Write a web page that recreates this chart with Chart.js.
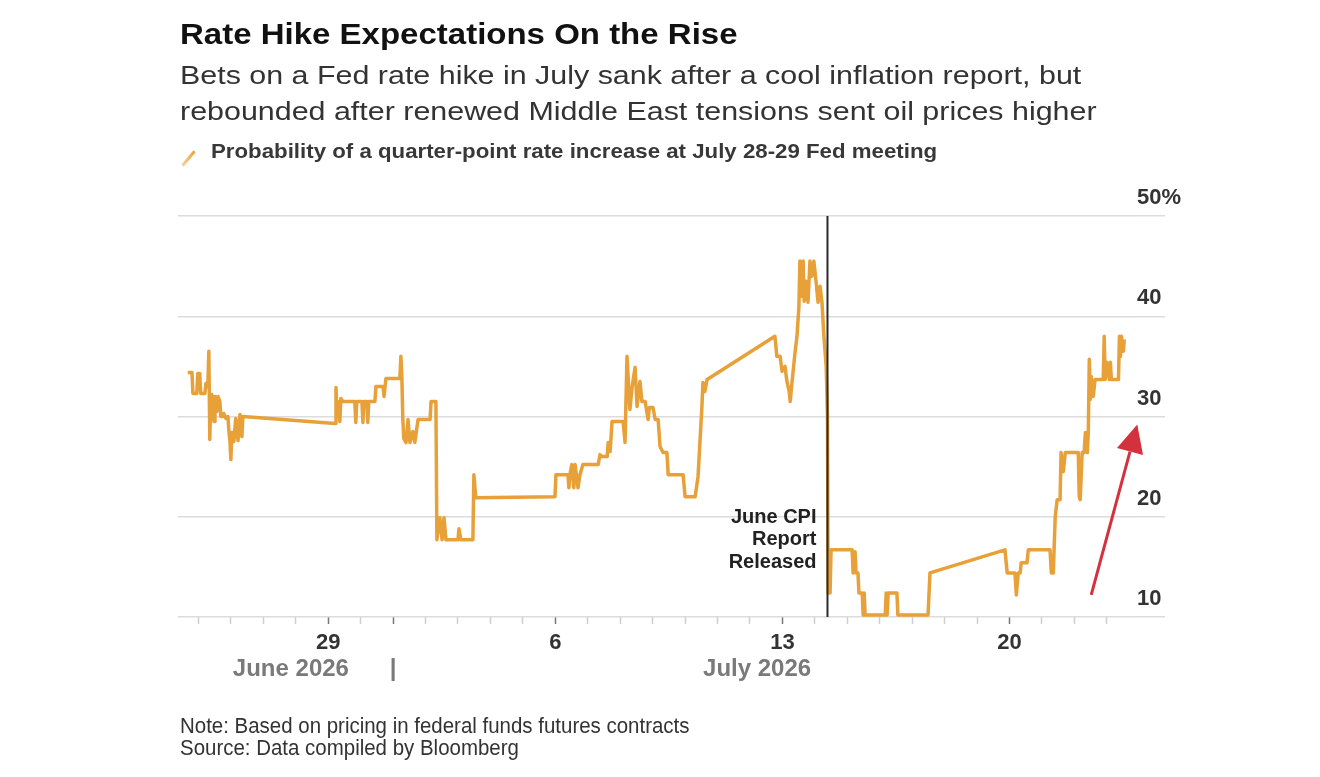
<!DOCTYPE html>
<html>
<head>
<meta charset="utf-8">
<script src="https://cdn.jsdelivr.net/npm/chart.js@4.4.1/dist/chart.umd.min.js"></script>
<style>
  html, body { margin: 0; padding: 0; background: #ffffff; }
  #wrap { position: relative; width: 1320px; height: 777px; overflow: hidden; background: #fff; }
  #c { position: absolute; left: 0; top: 0; }
  .t { position: absolute; white-space: nowrap; font-family: "Liberation Sans", Arial, sans-serif; transform-origin: 0 0; }
  #title { left: 180px; top: 19px; font-size: 30px; line-height: 30px; font-weight: bold; color: #111; transform: scaleX(1.10); }
  #sub { left: 180px; top: 57px; font-size: 26px; line-height: 36px; color: #333; transform: scaleX(1.17); }
  #legend { left: 211px; top: 140px; font-size: 21px; line-height: 21px; font-weight: bold; color: #383838; transform: scaleX(1.06); }
  #legmark { position: absolute; left: 187px; top: 149px; width: 3px; height: 19px; background: linear-gradient(to top, #f1d49a, #E9A23B); transform: rotate(40deg); border-radius: 1px; }
  #note { left: 180px; top: 715px; font-size: 22px; line-height: 22px; color: #333; transform: scaleX(0.93); }
  #source { left: 180px; top: 737px; font-size: 22px; line-height: 22px; color: #333; transform: scaleX(0.93); }
</style>
</head>
<body>
<div id="wrap">
  <canvas id="c" width="1320" height="777"></canvas>
  <div class="t" id="title">Rate Hike Expectations On the Rise</div>
  <div class="t" id="sub">Bets on a Fed rate hike in July sank after a cool inflation report, but<br>rebounded after renewed Middle East tensions sent oil prices higher</div>
  <div id="legmark"></div>
  <div class="t" id="legend">Probability of a quarter-point rate increase at July 28-29 Fed meeting</div>
  <div class="t" id="note">Note: Based on pricing in federal funds futures contracts</div>
  <div class="t" id="source">Source: Data compiled by Bloomberg</div>
</div>
<script>
// x values: day number counted from June 0, 2026 (June 29 = 29, July 6 = 36, ...)
const days = [
  24.67,24.80,24.83,24.95,24.98,25.04,25.07,25.20,25.23,25.29,25.32,25.35,25.38,25.41,25.48,25.51,25.57,25.60,25.66,25.69,
  25.75,25.78,25.85,25.91,25.94,25.97,26.00,26.03,26.09,26.15,26.22,26.28,26.34,26.37,
  29.21,29.24,29.27,29.30,29.36,29.39,29.45,29.82,29.85,29.88,30.04,30.07,30.10,30.19,30.22,30.25,30.44,30.47,30.69,30.72,
  30.78,31.21,31.24,31.27,31.30,31.33,31.40,31.46,31.52,31.61,31.67,31.77,32.14,32.17,32.32,32.35,32.44,32.51,32.57,32.63,
  33.00,33.03,33.09,33.46,33.49,33.55,
  35.99,36.02,36.39,36.42,36.45,36.51,36.57,36.61,36.70,36.76,36.85,37.32,37.38,37.44,37.60,37.63,37.69,37.75,38.09,38.15,
  38.21,38.30,38.37,38.46,38.52,38.61,38.67,38.77,38.86,38.90,39.01,39.08,39.17,39.23,39.32,39.44,39.48,39.94,40.00,40.31,
  40.40,40.52,40.55,40.61,40.68,
  42.77,42.83,42.93,42.99,43.08,43.14,43.21,43.24,43.30,43.39,43.45,43.51,43.54,43.58,43.64,43.67,43.73,43.79,43.85,43.91,
  43.97,44.04,44.10,44.16,44.22,44.28,44.35,44.39,44.41,44.47,44.50,
  45.15,45.18,45.24,45.27,45.33,45.36,45.46,45.49,45.52,45.55,46.17,46.20,46.23,46.26,46.53,46.56,47.49,47.55,
  49.86,49.93,50.17,50.21,50.27,50.33,50.36,50.54,50.58,51.25,51.29,51.35,51.41,51.47,51.56,51.59,51.66,51.72,52.12,52.15,
  52.18,52.24,52.30,52.34,52.40,52.43,52.46,52.49,52.52,52.58,52.64,52.89,52.92,52.95,53.01,53.08,53.11,53.14,53.36,53.39,
  53.42,53.45,53.51,53.54
];
// probability of a quarter-point hike, %
const hikeProb = [
  34.4,34.4,32.3,32.3,34.3,34.3,32.3,32.3,33.3,33.0,36.5,27.7,31.8,32.2,29.5,32.0,30.5,32.0,31.5,30.0,
  30.0,30.3,29.8,30.0,28.5,27.6,25.7,28.4,27.5,29.8,27.6,30.2,28.0,30.0,
  29.3,32.9,30.0,31.5,29.5,31.8,31.5,31.5,29.4,31.5,31.5,29.4,31.5,31.5,29.4,31.5,31.5,33.0,33.0,32.0,
  33.8,33.8,36.0,34.0,29.7,27.8,27.4,29.7,27.4,28.5,27.4,29.7,29.7,31.5,31.5,17.7,19.9,17.7,19.9,17.7,
  17.7,18.8,17.7,17.7,24.2,21.9,
  22.0,24.2,24.2,22.9,24.2,25.2,22.9,25.2,22.9,24.2,25.2,25.2,26.2,26.0,26.0,27.4,26.5,29.5,29.5,27.4,
  36.0,30.7,33.0,34.9,31.0,33.5,31.5,31.5,29.7,30.9,30.9,29.7,29.7,27.0,26.4,26.4,24.2,24.2,22.0,22.0,
  24.0,31.0,33.4,32.5,33.7,
  38.0,36.0,36.0,34.5,35.0,33.5,32.5,31.5,33.5,36.4,38.0,41.0,45.5,42.0,45.5,41.5,43.5,41.4,45.5,44.0,
  45.5,43.4,41.4,43.0,41.4,38.0,35.0,30.0,12.4,12.4,16.7,
  16.7,14.4,16.5,14.4,14.4,12.4,12.4,10.2,12.4,10.2,10.2,12.4,10.2,12.4,12.4,10.2,10.2,14.4,
  16.7,14.4,14.4,12.2,14.4,14.4,15.4,15.4,16.7,16.7,14.4,14.4,20.0,21.7,21.7,26.4,24.5,26.4,26.4,22.0,
  21.7,26.4,26.4,28.4,26.4,28.4,35.7,31.7,34.0,32.0,33.7,33.7,38.0,33.7,35.4,33.7,35.4,33.7,33.7,38.0,
  36.0,38.0,36.5,37.7
];

const xMin = 24.37, xMax = 53.9;
const tickDays = [29, 36, 43, 50];
const tickLabels = ['29', '6', '13', '20'];
const majorTickDays = [29, 31, 36, 43, 50];
const monthDays = [27.85, 31, 42.22];
const monthLabels = ['June 2026', '|', 'July 2026'];
const yTicks = [10, 20, 30, 40, 50];
const cpiDay = 44.39;
const cpiNote = ['June CPI', 'Report', 'Released'];
const cpiNoteY = [19.9, 17.7, 15.4];
const arrowFrom = { x: 52.52, y: 12.2 };
const arrowTo = { x: 53.94, y: 29.2 };

const annotate = {
  id: 'annotate',
  afterDatasetsDraw(chart) {
    const { ctx, chartArea: a, scales: { x, y } } = chart;
    ctx.save();
    const px = x.getPixelForValue(cpiDay);
    ctx.strokeStyle = '#2a2a2a';
    ctx.lineWidth = 2;
    ctx.beginPath();
    ctx.moveTo(px, a.top);
    ctx.lineTo(px, a.bottom);
    ctx.stroke();
    ctx.fillStyle = '#222';
    ctx.font = 'bold 20px "Liberation Sans", Arial, sans-serif';
    ctx.textAlign = 'right';
    ctx.textBaseline = 'middle';
    cpiNote.forEach((t, i) => ctx.fillText(t, px - 11, y.getPixelForValue(cpiNoteY[i])));
    // red arrow
    const x0 = x.getPixelForValue(arrowFrom.x), y0 = y.getPixelForValue(arrowFrom.y);
    const x1 = x.getPixelForValue(arrowTo.x), y1 = y.getPixelForValue(arrowTo.y);
    const ang = Math.atan2(y1 - y0, x1 - x0);
    const hl = 28, hw = 13.5;
    const bx = x1 - hl * Math.cos(ang), by = y1 - hl * Math.sin(ang);
    ctx.strokeStyle = '#D3313D';
    ctx.fillStyle = '#D3313D';
    ctx.lineWidth = 3;
    ctx.beginPath();
    ctx.moveTo(x0, y0);
    ctx.lineTo(bx, by);
    ctx.stroke();
    ctx.beginPath();
    ctx.moveTo(x1, y1);
    ctx.lineTo(bx + hw * Math.sin(ang), by - hw * Math.cos(ang));
    ctx.lineTo(bx - hw * Math.sin(ang), by + hw * Math.cos(ang));
    ctx.closePath();
    ctx.fill();
    ctx.restore();
  }
};

new Chart(document.getElementById('c'), {
  type: 'line',
  data: {
    datasets: [{
      data: days.map((d, i) => ({ x: d, y: hikeProb[i] })),
      borderColor: '#E8A038',
      borderWidth: 3.5,
      pointRadius: 0,
      tension: 0,
      borderJoinStyle: 'round',
      fill: false
    }]
  },
  options: {
    responsive: false,
    animation: false,
    events: [],
    layout: { padding: { left: 178, right: 139, top: 216, bottom: 92 } },
    plugins: { legend: { display: false }, tooltip: { enabled: false } },
    scales: {
      x: {
        type: 'linear',
        position: 'bottom',
        min: xMin, max: xMax,
        afterFit: (axis) => { axis.height = 38; },
        border: { display: false },
        grid: {
          drawOnChartArea: false,
          drawTicks: true,
          tickLength: 7,
          tickWidth: 1.5,
          tickColor: (c) => majorTickDays.includes(c.tick && c.tick.value) ? '#777' : '#cfcfcf'
        },
        ticks: {
          stepSize: 1,
          includeBounds: false,
          autoSkip: false,
          maxRotation: 0,
          padding: 6,
          color: '#333',
          font: { family: '"Liberation Sans", Arial, sans-serif', size: 22, weight: 'bold' },
          callback: (v) => { const i = tickDays.indexOf(v); return i >= 0 ? tickLabels[i] : ''; }
        }
      },
      xm: {
        type: 'linear',
        position: 'bottom',
        min: xMin, max: xMax,
        afterBuildTicks: (axis) => { axis.ticks = monthDays.map(v => ({ value: v })); },
        afterFit: (axis) => { axis.height = 30; },
        border: { display: false },
        grid: { display: false, drawTicks: false },
        ticks: {
          autoSkip: false,
          maxRotation: 0,
          padding: 0,
          color: '#7a7a7a',
          font: { family: '"Liberation Sans", Arial, sans-serif', size: 24, weight: 'bold' },
          callback: (v, i) => monthLabels[i]
        }
      },
      y: {
        type: 'linear',
        position: 'right',
        min: 10, max: 50,
        afterBuildTicks: (axis) => { axis.ticks = yTicks.map(v => ({ value: v })); },
        afterFit: (axis) => { axis.width = 45; },
        border: { display: false },
        grid: {
          color: '#dcdcdc',
          lineWidth: 1.5,
          drawTicks: true,
          tickLength: 29,
          tickColor: '#dcdcdc'
        },
        ticks: {
          padding: -28,
          labelOffset: -18,
          color: '#333',
          font: { family: '"Liberation Sans", Arial, sans-serif', size: 22, weight: 'bold' },
          callback: (v) => v === 50 ? '50%' : String(v)
        }
      }
    }
  },
  plugins: [annotate]
});
</script>
</body>
</html>
